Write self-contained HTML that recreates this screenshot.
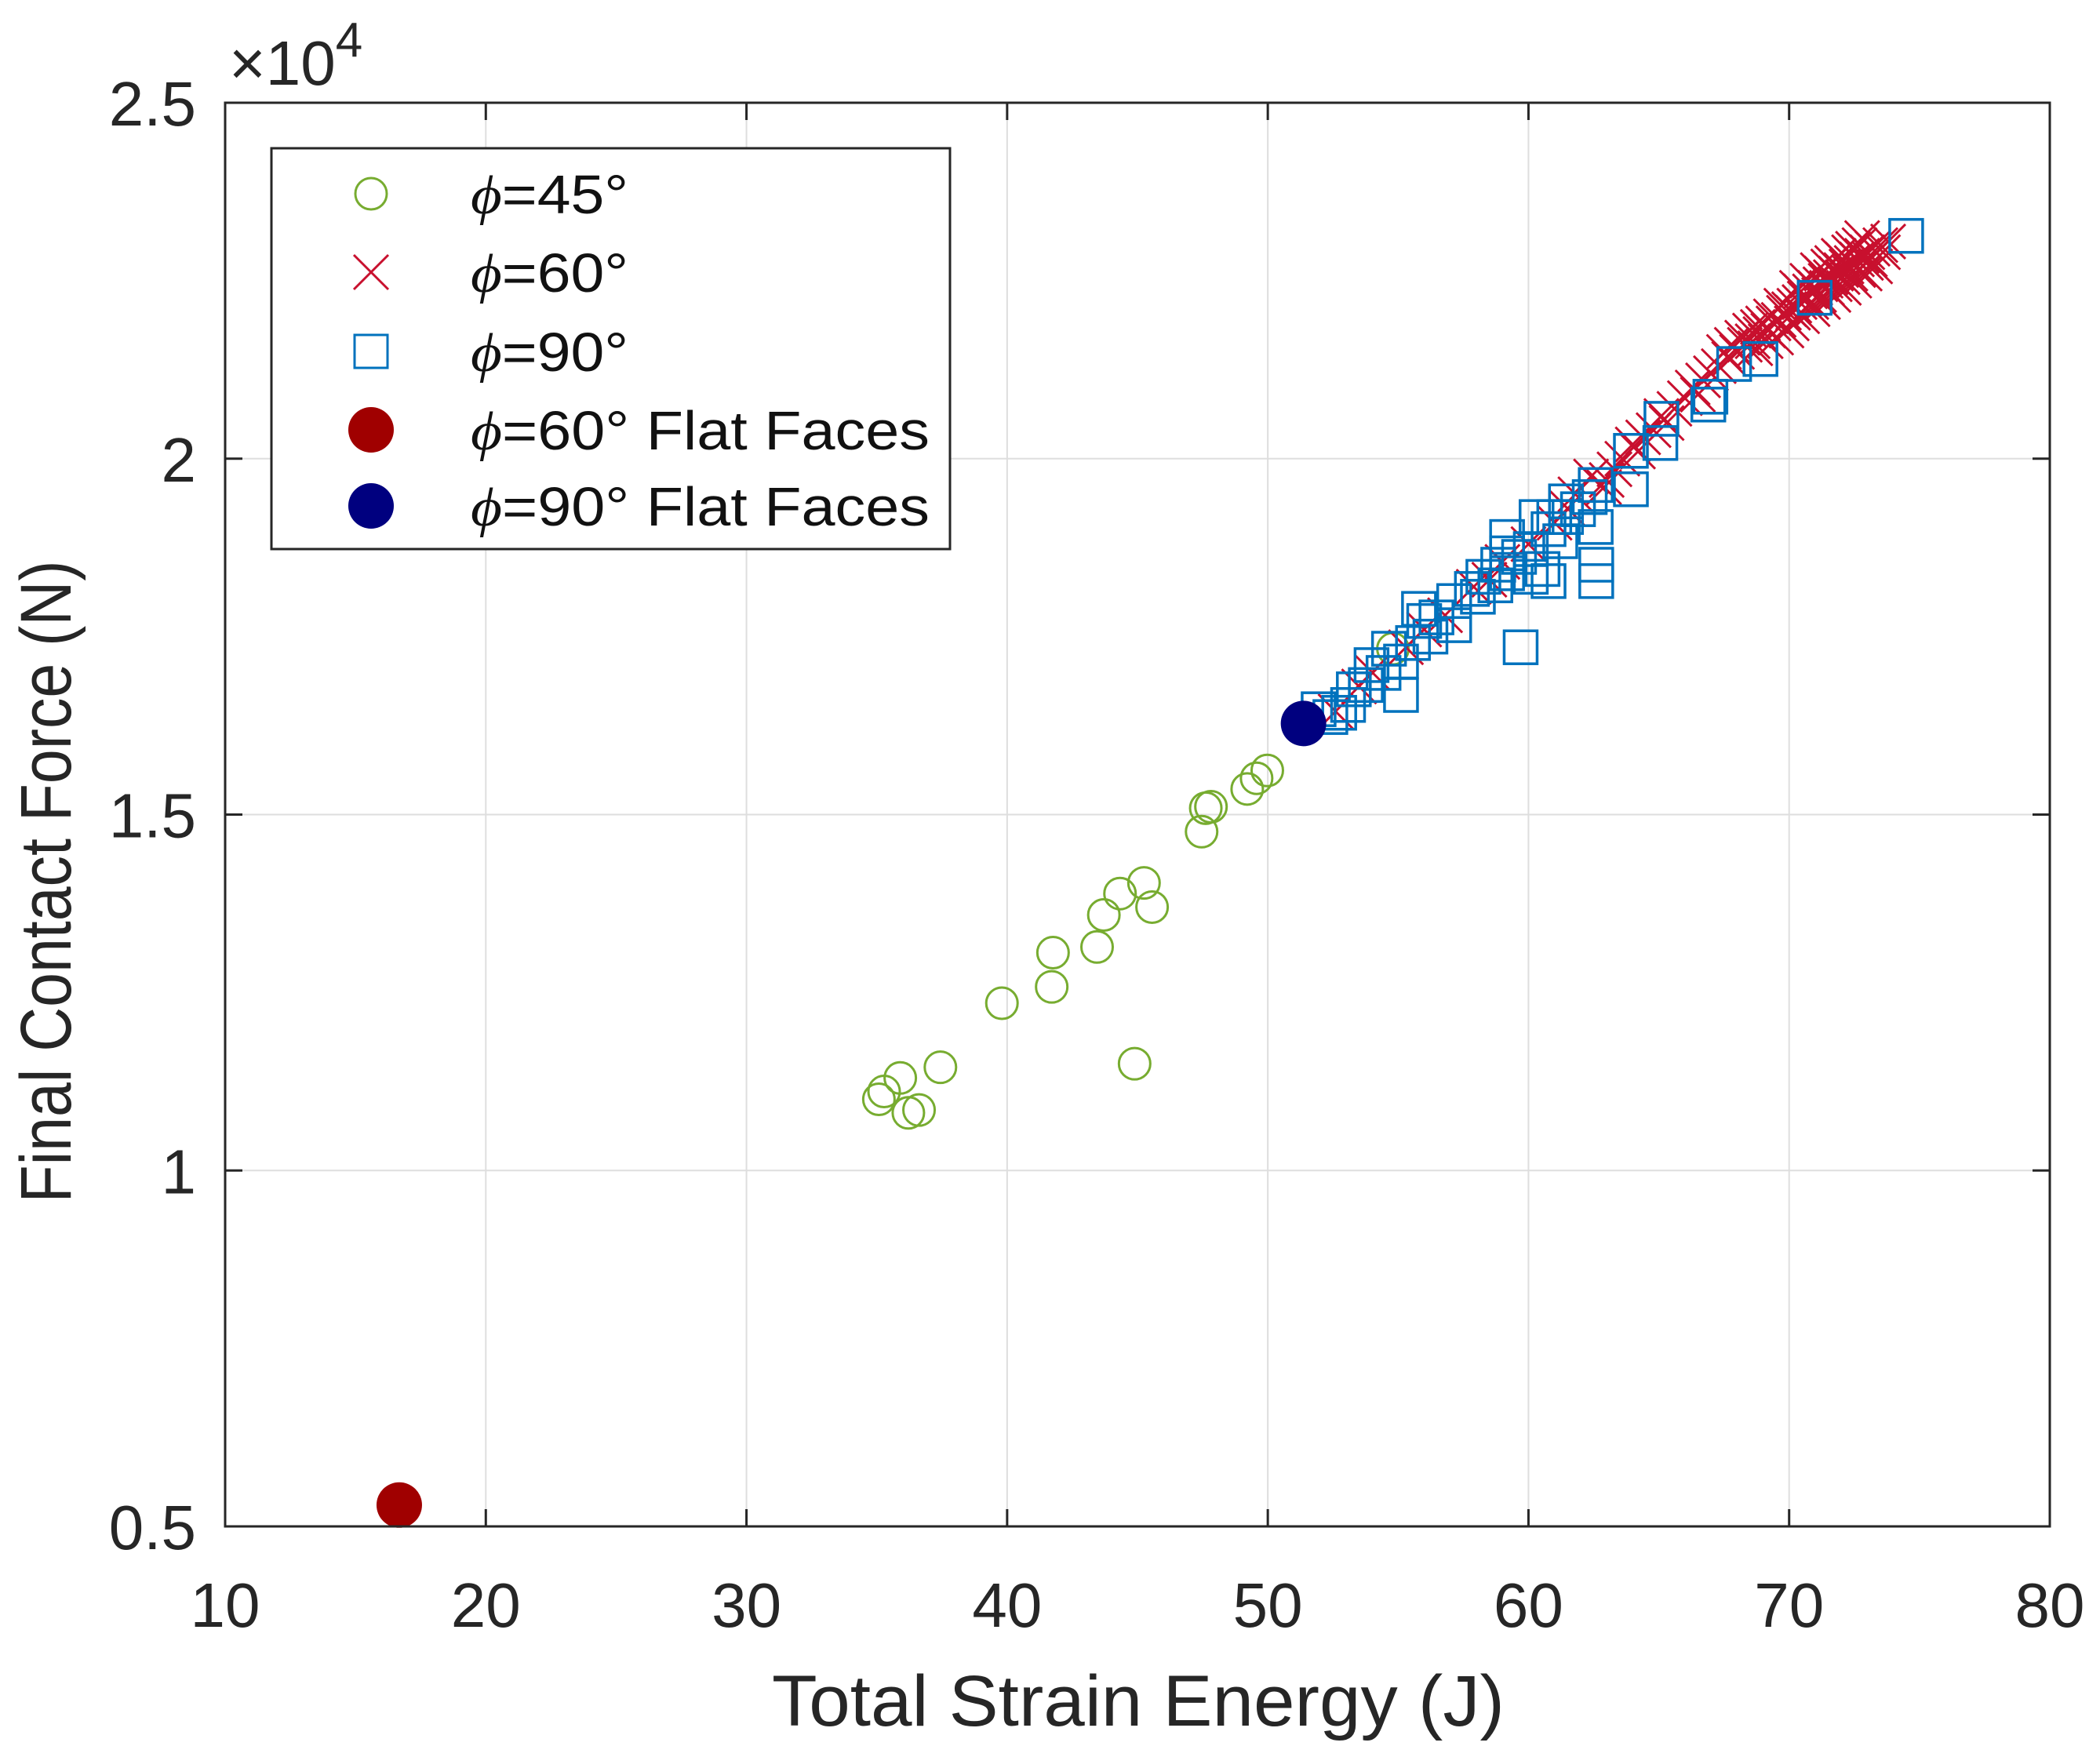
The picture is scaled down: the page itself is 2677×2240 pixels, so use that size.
<!DOCTYPE html>
<html><head><meta charset="utf-8"><style>
html,body{margin:0;padding:0;background:#fff;}
svg{display:block;font-family:"Liberation Sans",Arial,sans-serif;}
</style></head><body>
<svg id="chart" width="2677" height="2240" viewBox="0 0 2677 2240" xmlns="http://www.w3.org/2000/svg">
<g id="grid"></g>
<g id="series"></g>
<rect x="287" y="131" width="2326" height="1815" fill="none" stroke="#262626" stroke-width="3"/>
<g id="ticks"></g>
<text x="292" y="108" font-size="80" fill="#262626">×10<tspan dy="-36" font-size="62">4</tspan></text>
<text x="1451" y="2200" font-size="92" text-anchor="middle" fill="#262626" textLength="934" lengthAdjust="spacingAndGlyphs">Total Strain Energy (J)</text>
<text transform="translate(90,1124) rotate(-90)" font-size="92" text-anchor="middle" fill="#262626" textLength="819" lengthAdjust="spacingAndGlyphs">Final Contact Force (N)</text>
<g>
<rect x="346" y="189" width="865" height="511" fill="#fff" stroke="#262626" stroke-width="3"/>
<circle cx="473" cy="247" r="20" fill="none" stroke="#77AC30" stroke-width="3"/>
<g stroke="#C8102E" stroke-width="3"><line x1="451" y1="325" x2="495" y2="369"/><line x1="495" y1="325" x2="451" y2="369"/></g>
<rect x="452" y="427" width="42" height="42" fill="none" stroke="#0072BD" stroke-width="3"/>
<circle cx="473" cy="548" r="29" fill="#A00000"/>
<circle cx="473" cy="645" r="29" fill="#00007F"/>
<g font-size="70" fill="#111">
<text x="600" y="272" textLength="201" lengthAdjust="spacingAndGlyphs"><tspan font-family="Liberation Serif" font-style="italic">ϕ</tspan>=45°</text>
<text x="600" y="372" textLength="201" lengthAdjust="spacingAndGlyphs"><tspan font-family="Liberation Serif" font-style="italic">ϕ</tspan>=60°</text>
<text x="600" y="473" textLength="201" lengthAdjust="spacingAndGlyphs"><tspan font-family="Liberation Serif" font-style="italic">ϕ</tspan>=90°</text>
<text x="600" y="573" textLength="585" lengthAdjust="spacingAndGlyphs"><tspan font-family="Liberation Serif" font-style="italic">ϕ</tspan>=60° Flat Faces</text>
<text x="600" y="670" textLength="585" lengthAdjust="spacingAndGlyphs"><tspan font-family="Liberation Serif" font-style="italic">ϕ</tspan>=90° Flat Faces</text>
</g></g>
</svg>
<script>
const xTicks=[10,20,30,40,50,60,70,80];
const yTicks=[0.5,1,1.5,2,2.5];
const yTickLabels=["0.5","1","1.5","2","2.5"];
const phi45=[[35.08,1.100],[35.28,1.111],[35.90,1.130],[36.21,1.081],[36.62,1.085],[37.44,1.145],[39.80,1.235],[41.71,1.258],[41.76,1.306],[43.45,1.314],[43.71,1.359],[44.33,1.389],[45.25,1.404],[45.56,1.370],[44.89,1.150],[47.46,1.476],[47.62,1.509],[47.82,1.511],[49.21,1.536],[49.57,1.551],[49.98,1.562],[54.8,1.733]];
const phi60=[[52.6,1.645],[54.0,1.70],[55.3,1.735],[56.8,1.78],[57.9,1.82],[59.0,1.855],[60.0,1.88],[61.0,1.91],[61.8,1.95],[62.4,1.975],[62.9,1.96],[63.3,1.985],[63.6,2.0],[64.0,2.02],[64.4,2.03],[64.8,2.04],[65.1,2.06],[65.6,2.07],[66.0,2.085],[66.3,2.10],[66.7,2.11],[67.0,2.12],[67.3,2.13],[67.7,2.14],[68.0,2.15],[68.3,2.16],[68.6,2.165],[68.9,2.175],[69.2,2.18],[69.4,2.19],[69.6,2.195],[69.8,2.205],[70.0,2.21],[70.2,2.215],[70.4,2.22],[70.6,2.225],[70.8,2.235],[71.0,2.24],[71.2,2.245],[71.4,2.25],[71.6,2.255],[71.8,2.26],[72.0,2.265],[72.2,2.27],[72.4,2.275],[72.6,2.28],[72.8,2.285],[73.0,2.29],[73.2,2.295],[73.5,2.30],[73.8,2.305],[70.1,2.19],[70.5,2.20],[70.9,2.21],[71.3,2.22],[71.7,2.23],[72.1,2.24],[72.5,2.25],[72.9,2.26],[73.3,2.27],[70.3,2.24],[70.7,2.25],[71.1,2.265],[71.5,2.27],[71.9,2.285],[72.3,2.29],[72.7,2.30],[69.5,2.17],[69.9,2.18],[69.0,2.19],[68.5,2.18],[67.5,2.15],[66.5,2.09],[65.3,2.05],[64.2,2.01],[63.0,1.97],[61.5,1.93],[58.5,1.83],[56.0,1.76],[53.5,1.68],[70.15,2.205],[70.45,2.235],[70.85,2.22],[71.15,2.23],[71.45,2.24],[71.75,2.245],[72.05,2.255],[72.35,2.26],[72.65,2.265],[72.95,2.275],[71.25,2.26],[71.65,2.275],[72.05,2.28],[72.45,2.295],[69.7,2.215],[69.3,2.20],[68.8,2.185],[68.2,2.17],[67.8,2.16],[69.1,2.165],[68.7,2.155],[73.1,2.28],[73.6,2.29],[72.8,2.31]];
const phi90=[[74.49,2.313],[70.98,2.226],[68.9,2.140],[67.89,2.133],[66.98,2.087],[66.9,2.076],[65.1,2.056],[65.06,2.022],[63.93,2.011],[63.93,1.957],[62.58,1.963],[62.58,1.904],[62.6,1.851],[62.6,1.828],[61.44,1.940],[60.99,1.918],[60.77,1.828],[59.7,1.735],[60.09,1.873],[59.18,1.867],[58.84,1.851],[58.27,1.834],[57.83,1.817],[57.15,1.800],[56.47,1.777],[56.24,1.750],[55.57,1.741],[55.11,1.715],[54.44,1.699],[53.76,1.682],[55.11,1.668],[53.08,1.654],[52.4,1.637],[60.54,1.845],[61.22,1.884],[60.77,1.901],[59.64,1.862],[59.18,1.839],[58.73,1.822],[60.09,1.834],[61.9,1.929],[62.35,1.946],[57.15,1.766],[56.0,1.772],[54.65,1.733],[53.98,1.710],[53.3,1.676],[51.95,1.648],[52.74,1.643],[55.8,1.789],[58.06,1.806],[59.18,1.890],[60.31,1.918],[61.44,1.918]];
const flat60=[[16.68,0.530]];
const flat90=[[51.37,1.628]];

const NS="http://www.w3.org/2000/svg";
const L=287,R=2613,T=131,B=1946;
function sx(v){return L+(v-10)/70*(R-L);}
function sy(v){return B-(v-0.5)/2*(B-T);}
function mk(tag,attrs,parent){const e=document.createElementNS(NS,tag);for(const k in attrs)e.setAttribute(k,attrs[k]);parent.appendChild(e);return e;}
const grid=document.getElementById('grid'),ticks=document.getElementById('ticks'),ser=document.getElementById('series');
xTicks.forEach(v=>{
  const x=sx(v);
  if(v>10&&v<80){const g=mk('line',{x1:x,x2:x,y1:T,y2:B,stroke:'#dedede','stroke-width':2},grid);
    
    }
  const t1=mk('line',{x1:x,x2:x,y1:B,y2:B-22,stroke:'#262626','stroke-width':3},ticks);
  
  
  const t2=mk('line',{x1:x,x2:x,y1:T,y2:T+22,stroke:'#262626','stroke-width':3},ticks);
  
  
  const tx=mk('text',{x:x,y:2074,'font-size':80,'text-anchor':'middle',fill:'#262626'},ticks);
  tx.textContent=String(v);
  
  
});
yTicks.forEach((v,i)=>{
  const y=sy(v);
  if(v>0.5&&v<2.5){const g=mk('line',{x1:L,x2:R,y1:y,y2:y,stroke:'#dedede','stroke-width':2},grid);
    
    }
  const t1=mk('line',{x1:L,x2:L+22,y1:y,y2:y,stroke:'#262626','stroke-width':3},ticks);
  
  
  const t2=mk('line',{x1:R,x2:R-22,y1:y,y2:y,stroke:'#262626','stroke-width':3},ticks);
  
  
  const tx=mk('text',{x:250,y:y+29,'font-size':80,'text-anchor':'end',fill:'#262626'},ticks);
  tx.textContent=yTickLabels[i];
  
  
});
phi45.forEach(p=>{
  const c=mk('circle',{cx:sx(p[0]),cy:sy(p[1]),r:20,fill:'none',stroke:'#77AC30','stroke-width':3},ser);
  
  
});
phi60.forEach(p=>{
  const x=sx(p[0]),y=sy(p[1]),s=22;
  const g=mk('path',{d:`M${x-s} ${y-s}L${x+s} ${y+s}M${x+s} ${y-s}L${x-s} ${y+s}`,stroke:'#C8102E','stroke-width':3,fill:'none'},ser);
  
  
});
phi90.forEach(p=>{
  const r=mk('rect',{x:sx(p[0])-21,y:sy(p[1])-21,width:42,height:42,fill:'none',stroke:'#0072BD','stroke-width':3.5},ser);
  
  
});
flat60.forEach(p=>{
  const c=mk('circle',{cx:sx(p[0]),cy:sy(p[1]),r:29,fill:'#A00000'},ser);
  
  
});
flat90.forEach(p=>{
  const c=mk('circle',{cx:sx(p[0]),cy:sy(p[1]),r:29,fill:'#00007F'},ser);
  
  
});
</script>
</body></html>
